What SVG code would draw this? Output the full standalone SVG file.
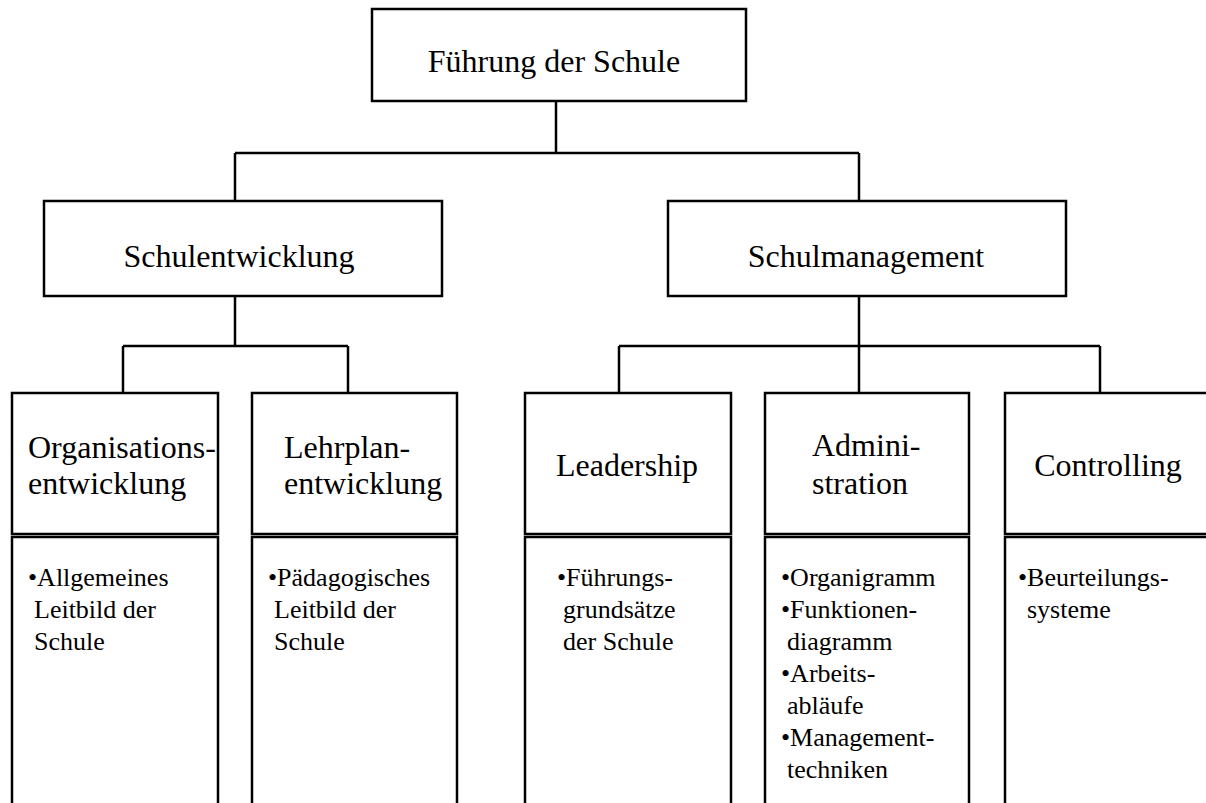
<svg xmlns="http://www.w3.org/2000/svg" width="1206" height="803" viewBox="0 0 1206 803">
<style>
.box{fill:#fff;stroke:#000;stroke-width:2.5}
.con{fill:none;stroke:#000;stroke-width:2.5}
.h{font-family:"Liberation Serif","Times New Roman",serif;font-size:32px;fill:#000}
.b{font-family:"Liberation Serif","Times New Roman",serif;font-size:26px;fill:#000}
.m{text-anchor:middle}
</style>
<rect width="1206" height="803" fill="#fff"/>
<g id="connectors">
<path class="con" d="M556 101V153M235 153H859M235 153V201M859 153V201"/>
<path class="con" d="M235 296V346M123 346H348M123 346V393M348 346V393"/>
<path class="con" d="M859 296V346M619 346H1100M619 346V393M859 346V393M1100 346V393"/>
</g>
<g id="fuehrung">
<rect class="box" x="372" y="9" width="374" height="92"/>
<text class="h m" x="554" y="72">Führung der Schule</text>
</g>
<g id="schulentwicklung">
<rect class="box" x="44" y="201" width="398" height="95"/>
<text class="h m" x="239" y="267">Schulentwicklung</text>
</g>
<g id="schulmanagement">
<rect class="box" x="668" y="201" width="398" height="95"/>
<text class="h m" x="866" y="267">Schulmanagement</text>
</g>
<g id="organisationsentwicklung">
<rect class="box" x="12" y="393" width="206" height="141"/>
<rect class="box" x="12" y="537" width="206" height="280"/>
<text class="h" x="28" y="458">Organisations-</text>
<text class="h" x="28" y="494">entwicklung</text>
<text class="b" x="28" y="586">•Allgemeines</text>
<text class="b" x="34" y="618">Leitbild der</text>
<text class="b" x="34" y="650">Schule</text>
</g>
<g id="lehrplanentwicklung">
<rect class="box" x="252" y="393" width="205" height="141"/>
<rect class="box" x="252" y="537" width="205" height="280"/>
<text class="h" x="284" y="458">Lehrplan-</text>
<text class="h" x="284" y="494">entwicklung</text>
<text class="b" x="268" y="586">•Pädagogisches</text>
<text class="b" x="274" y="618">Leitbild der</text>
<text class="b" x="274" y="650">Schule</text>
</g>
<g id="leadership">
<rect class="box" x="525" y="393" width="206" height="141"/>
<rect class="box" x="525" y="537" width="206" height="280"/>
<text class="h m" x="627" y="476">Leadership</text>
<text class="b" x="557" y="586">•Führungs-</text>
<text class="b" x="563" y="618">grundsätze</text>
<text class="b" x="563" y="650">der Schule</text>
</g>
<g id="administration">
<rect class="box" x="765" y="393" width="204" height="141"/>
<rect class="box" x="765" y="537" width="204" height="280"/>
<text class="h" x="812" y="456">Admini-</text>
<text class="h" x="812" y="494">stration</text>
<text class="b" x="781" y="586">•Organigramm</text>
<text class="b" x="781" y="618">•Funktionen-</text>
<text class="b" x="787" y="650">diagramm</text>
<text class="b" x="781" y="682">•Arbeits-</text>
<text class="b" x="787" y="714">abläufe</text>
<text class="b" x="781" y="746">•Management-</text>
<text class="b" x="787" y="778">techniken</text>
</g>
<g id="controlling">
<rect class="box" x="1005" y="393" width="215" height="141"/>
<rect class="box" x="1005" y="537" width="215" height="280"/>
<text class="h m" x="1108" y="476">Controlling</text>
<text class="b" x="1018" y="586">•Beurteilungs-</text>
<text class="b" x="1027" y="618">systeme</text>
</g>
</svg>
